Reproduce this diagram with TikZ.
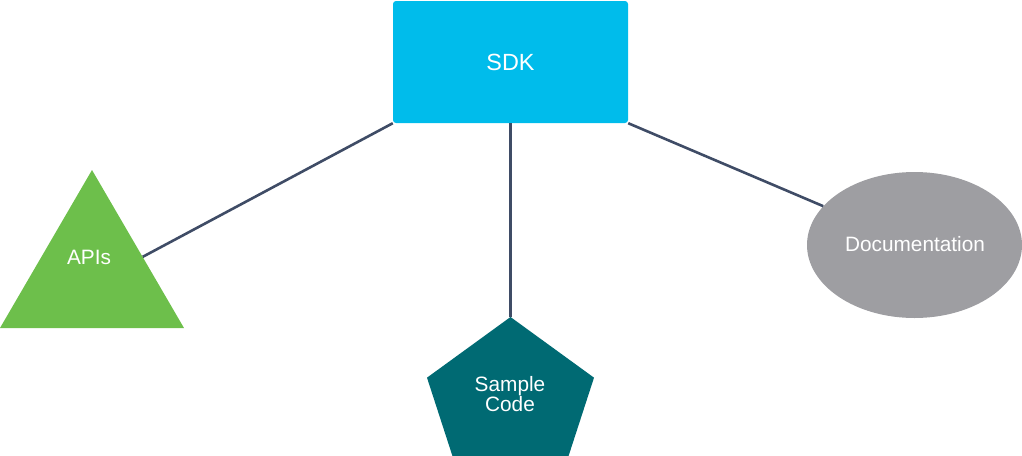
\documentclass[tikz,border=0pt]{standalone}
\usepackage{fontspec}
\setmainfont{Liberation Sans}
\usetikzlibrary{shapes.geometric,calc}
\definecolor{sdkcyan}{HTML}{00BCEB}
\definecolor{apigreen}{HTML}{6DBF4B}
\definecolor{codeteal}{HTML}{006A73}
\definecolor{docgray}{HTML}{9E9EA2}
\definecolor{linkslate}{HTML}{3F4C66}
\begin{document}
\begin{tikzpicture}[x=1pt,y=-1pt,
  lbl/.style={text=white,font=\fontsize{20.8}{23}\selectfont,align=center,inner sep=0pt},
  link/.style={draw=linkslate,line width=2.6pt}]
\useasboundingbox (0,0) rectangle (1022,455);
\clip (0,0) rectangle (1022,455);
\node[draw=none,fill=sdkcyan,rounded corners=3pt,minimum width=235pt,minimum height=122pt,inner sep=0pt] (sdk) at (510.5,62) {};
\coordinate (apiTop) at (92,170);
\coordinate (apiL) at (0,328);
\coordinate (apiR) at (184,328);
\coordinate (apiEdge) at ($(apiTop)!0.55!(apiR)$);
\node[regular polygon,regular polygon sides=5,minimum size=175.6pt,inner sep=0pt,fill=codeteal] (code) at (510.5,404.8) {};
\node[ellipse,minimum width=215pt,minimum height=146pt,inner sep=0pt,fill=docgray] (doc) at (914.5,245) {};
\draw[link] (sdk.south west) -- (apiEdge);
\draw[link] (sdk.south) -- (code.corner 1);
\draw[link] (sdk.south east) -- (doc);
\fill[apigreen] (apiTop) -- (apiL) -- (apiR) -- cycle;
\node[lbl,font=\fontsize{23.4}{26}\selectfont] (sdktext) at (sdk.center) {SDK};
\node[lbl] (apis) at (89,257) {APIs};
\node[lbl] (codetext) at (510,394.5) {Sample\\[-3pt]Code};
\node[lbl] (doctext) at (915,244) {Documentation};
\end{tikzpicture}
\end{document}
